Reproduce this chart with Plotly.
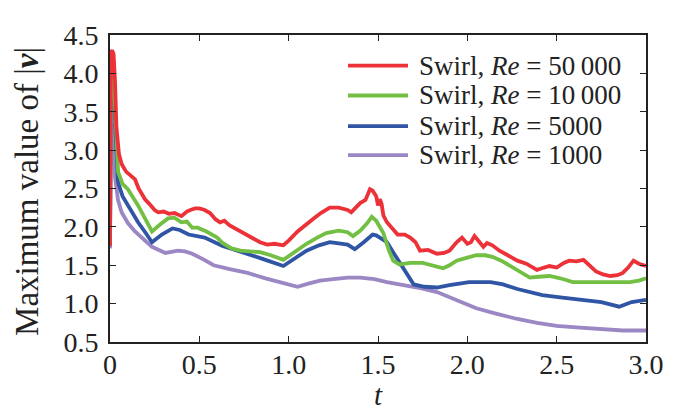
import plotly.graph_objects as go

# ---------------- data ----------------
t_red = [0, 0.005, 0.012, 0.02, 0.028, 0.036, 0.05, 0.065, 0.09, 0.11, 0.14, 0.16, 0.18, 0.196, 0.22, 0.25,
         0.27, 0.30, 0.33, 0.36, 0.40, 0.43, 0.45, 0.476, 0.50, 0.53, 0.56, 0.59, 0.616, 0.64, 0.67,
         0.70, 0.73, 0.77, 0.80, 0.84, 0.88, 0.92, 0.97, 1.0, 1.05, 1.10, 1.14, 1.18, 1.23, 1.28,
         1.33, 1.35, 1.38, 1.40, 1.43, 1.455, 1.47, 1.49, 1.50, 1.51, 1.52, 1.53, 1.55, 1.58, 1.61,
         1.65, 1.68, 1.71, 1.735, 1.78, 1.83, 1.87, 1.90, 1.94, 1.97, 2.0, 2.02, 2.04, 2.07, 2.09,
         2.11, 2.14, 2.18, 2.23, 2.28, 2.33, 2.39, 2.43, 2.46, 2.50, 2.54, 2.57, 2.61, 2.65, 2.68,
         2.72, 2.76, 2.80, 2.84, 2.87, 2.90, 2.93, 2.96, 2.98, 3.0]
v_red = [1.75, 4.28, 4.3, 4.25, 3.9, 3.3, 2.95, 2.82, 2.72, 2.68, 2.62, 2.5, 2.42, 2.36, 2.30, 2.22,
         2.19, 2.20, 2.17, 2.18, 2.14, 2.2, 2.22, 2.24, 2.24, 2.22, 2.18, 2.1, 2.06, 2.08, 2.02,
         1.98, 1.94, 1.88, 1.85, 1.80, 1.77, 1.78, 1.76, 1.82, 1.94, 2.04, 2.11, 2.18, 2.25, 2.25,
         2.22, 2.19, 2.26, 2.31, 2.35, 2.49, 2.47, 2.4, 2.28, 2.36, 2.3, 2.15, 2.06, 1.98, 1.90,
         1.90, 1.86, 1.80, 1.69, 1.70, 1.65, 1.66, 1.69, 1.80, 1.86, 1.78, 1.80, 1.88, 1.80, 1.74,
         1.79, 1.76, 1.69, 1.62, 1.56, 1.52, 1.44, 1.47, 1.49, 1.47, 1.53, 1.56, 1.55, 1.57, 1.50,
         1.42, 1.38, 1.36, 1.37, 1.40, 1.47, 1.56, 1.52, 1.50, 1.49]

t_green = [0, 0.005, 0.012, 0.02, 0.028, 0.036, 0.045, 0.07, 0.10, 0.157, 0.20, 0.235, 0.28, 0.325, 0.36, 0.40,
           0.43, 0.46, 0.49, 0.54, 0.60, 0.63, 0.68, 0.73, 0.84, 0.90, 0.97, 1.0, 1.05, 1.10, 1.16,
           1.21, 1.28, 1.33, 1.36, 1.40, 1.44, 1.465, 1.49, 1.53, 1.56, 1.585, 1.62, 1.68, 1.75, 1.81,
           1.865, 1.90, 1.94, 2.0, 2.05, 2.10, 2.14, 2.19, 2.24, 2.30, 2.35, 2.40, 2.46, 2.52, 2.59,
           2.7, 2.82, 2.91, 2.96, 3.0]
v_green = [1.75, 3.98, 4.0, 3.95, 3.6, 3.05, 2.72, 2.56, 2.49, 2.28, 2.08, 1.94, 2.03, 2.11, 2.12, 2.06,
           2.07, 1.99, 1.99, 1.94, 1.86, 1.79, 1.72, 1.69, 1.67, 1.63, 1.57, 1.62, 1.70, 1.78, 1.86,
           1.92, 1.95, 1.93, 1.88, 1.95, 2.05, 2.13, 2.08, 1.92, 1.70, 1.56, 1.51, 1.53, 1.53, 1.50,
           1.46, 1.50, 1.56, 1.60, 1.63, 1.63, 1.61, 1.56, 1.49, 1.42, 1.34, 1.35, 1.36, 1.33, 1.28,
           1.28, 1.28, 1.28, 1.30, 1.33]

t_blue = [0, 0.005, 0.012, 0.02, 0.028, 0.036, 0.045, 0.07, 0.10, 0.157, 0.20, 0.235, 0.29, 0.35, 0.39, 0.44,
          0.53, 0.58, 0.63, 0.70, 0.77, 0.87, 0.97, 1.03, 1.10, 1.17, 1.23, 1.33, 1.37, 1.42, 1.47,
          1.49, 1.52, 1.55, 1.59, 1.63, 1.67, 1.70, 1.76, 1.83, 1.90, 2.01, 2.13, 2.20, 2.28, 2.35,
          2.42, 2.52, 2.65, 2.75, 2.85, 2.92, 3.0]
v_blue = [1.75, 3.8, 3.84, 3.75, 3.4, 2.9, 2.58, 2.4, 2.28, 2.06, 1.92, 1.80, 1.90, 1.98, 1.96, 1.90,
          1.86, 1.80, 1.75, 1.70, 1.65, 1.57, 1.49, 1.58, 1.69, 1.76, 1.80, 1.77, 1.71, 1.80, 1.90,
          1.89, 1.85, 1.80, 1.65, 1.50, 1.36, 1.25, 1.22, 1.21, 1.24, 1.28, 1.28, 1.25, 1.19, 1.15,
          1.11, 1.08, 1.05, 1.02, 0.96, 1.02, 1.05]

t_purple = [0, 0.005, 0.012, 0.02, 0.028, 0.045, 0.065, 0.10, 0.14, 0.19, 0.235, 0.31, 0.35, 0.38, 0.42,
            0.46, 0.52, 0.58, 0.67, 0.77, 0.87, 0.95, 1.05, 1.11, 1.175, 1.25, 1.33, 1.40, 1.48, 1.55,
            1.62, 1.72, 1.83, 1.94, 2.05, 2.16, 2.28, 2.39, 2.5, 2.61, 2.72, 2.80, 2.87, 2.95, 3.0]
v_purple = [1.72, 3.3, 3.35, 3.15, 2.65, 2.35, 2.19, 2.05, 1.94, 1.84, 1.74, 1.66, 1.68, 1.69, 1.68,
            1.65, 1.58, 1.50, 1.45, 1.40, 1.33, 1.28, 1.22, 1.26, 1.30, 1.32, 1.34, 1.34, 1.32, 1.28,
            1.25, 1.21, 1.15, 1.05, 0.94, 0.87, 0.80, 0.75, 0.71, 0.69, 0.67, 0.66, 0.65, 0.65, 0.65]

series_names = ["Swirl, <i>Re</i> = 50\u2009000", "Swirl, <i>Re</i> = 10\u2009000",
                "Swirl, <i>Re</i> = 5000", "Swirl, <i>Re</i> = 1000"]
series_colors = ["#EC3238", "#72BF44", "#2F55A4", "#9B87C4"]

x_tickvals = [0, 0.5, 1.0, 1.5, 2.0, 2.5, 3.0]
x_ticktext = ["0", "0.5", "1.0", "1.5", "2.0", "2.5", "3.0"]
y_tickvals = [0.5, 1.0, 1.5, 2.0, 2.5, 3.0, 3.5, 4.0, 4.5]
y_ticktext = ["0.5", "1.0", "1.5", "2.0", "2.5", "3.0", "3.5", "4.0", "4.5"]

# ---------------- figure ----------------
FONT = "Liberation Serif"
LW = 3.8
fig = go.Figure()
all_t = [t_red, t_green, t_blue, t_purple]
all_v = [v_red, v_green, v_blue, v_purple]
# draw purple first so red ends on top
for i in [3, 2, 1, 0]:
    fig.add_trace(go.Scatter(x=all_t[i], y=all_v[i], mode="lines", name=series_names[i],
                             line=dict(color=series_colors[i], width=LW), showlegend=False))

# manual legend
leg_y = [0.90, 0.803, 0.703, 0.609]
for i in range(4):
    fig.add_shape(type="line", xref="paper", yref="paper", x0=0.444, x1=0.556,
                  y0=leg_y[i], y1=leg_y[i], line=dict(color=series_colors[i], width=LW))
    fig.add_annotation(xref="paper", yref="paper", x=0.573, y=leg_y[i], text=series_names[i],
                       showarrow=False, xanchor="left", yanchor="middle",
                       font=dict(family=FONT, size=27, color="#222"))

fig.add_annotation(xref="paper", yref="paper", x=-0.156, y=0.49, textangle=-90,
                   text="Maximum value of |<b><i>v</i></b>|", showarrow=False,
                   xanchor="center", yanchor="middle", font=dict(family=FONT, size=33, color="#222"))
fig.add_annotation(xref="paper", yref="paper", x=0.5, y=-0.172, text="<i>t</i>", showarrow=False,
                   xanchor="center", yanchor="middle", font=dict(family=FONT, size=29, color="#222"))

axis_common = dict(showline=True, linecolor="#222", linewidth=1.6, mirror="ticks", ticks="inside",
                   ticklen=6, tickwidth=1.4, tickcolor="#222", showgrid=False, zeroline=False,
                   ticklabeloverflow="allow",
                   tickfont=dict(family=FONT, size=28, color="#222"))
fig.update_xaxes(range=[0, 3], tickvals=x_tickvals, ticktext=x_ticktext,
                 ticklabelstandoff=-3, **axis_common)
fig.update_yaxes(range=[0.5, 4.5], tickvals=y_tickvals, ticktext=y_ticktext,
                 ticklabelstandoff=4, **axis_common)

# page body has an 8px default margin: size the figure so the plot lands at the reference position
fig.update_layout(width=673, height=407, margin=dict(l=102, r=35, t=14, b=73),
                  plot_bgcolor="white", paper_bgcolor="white", showlegend=False,
                  font=dict(family=FONT))
fig.write_html("out.html")
